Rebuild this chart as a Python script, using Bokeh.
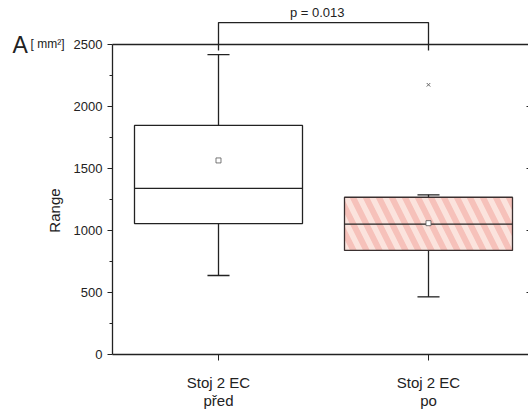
import math
from bokeh.plotting import figure
from bokeh.models import Range1d, LinearAxis, FixedTicker, Label
from bokeh.embed import file_html
from bokeh.resources import INLINE
from bokeh.core.properties import value

# ---- data ----
categories = ["Stoj 2 EC\npřed", "Stoj 2 EC\npo"]
positions = [1, 2]
q1 = [1056, 839]
median = [1339, 1051]
q3 = [1847, 1268]
whisker_low = [637, 465]
whisker_high = [2419, 1288]
means = [1565, 1059]
outlier_x = [2]
outlier_y = [2175]
p_text = "p = 0.013"
y_label = "Range"
y_ticks = [0, 500, 1000, 1500, 2000, 2500]
y_minor = [250, 750, 1250, 1750, 2250]
Y_MIN, Y_MAX = 0, 2500
X_LEFT, X_RIGHT = 0.4952, 2.4762   # plot box edges in category units

FONT = "Liberation Sans"
LINE = "#222222"

BOX_W = 0.8
CAP_W = 0.105

p = figure(width=528, height=412, output_backend="svg", toolbar_location=None,
           x_range=Range1d(-0.0381, 2.4762), y_range=Range1d(-467.7, 2854.8),
           min_border_left=0, min_border_right=0, min_border_top=0, min_border_bottom=0,
           x_axis_location=None, y_axis_location=None)
p.outline_line_color = None
p.grid.visible = False
p.background_fill_color = "white"
p.border_fill_color = "white"

# left axis
ya = LinearAxis(bounds=(Y_MIN, Y_MAX), fixed_location=X_LEFT,
                ticker=FixedTicker(ticks=y_ticks, minor_ticks=y_minor))
ya.major_label_text_font = FONT
ya.major_label_text_font_size = "13px"
ya.major_label_text_color = LINE
ya.major_tick_out = 5
ya.major_tick_in = 0
ya.minor_tick_out = 3
ya.minor_tick_in = 0
ya.axis_line_color = LINE
ya.major_tick_line_color = LINE
ya.minor_tick_line_color = LINE
ya.axis_line_width = 1.3
ya.major_label_standoff = 5
p.add_layout(ya, "left")

# y axis title (rotated)
p.add_layout(Label(x=62, x_units="screen", y=1161, text=y_label, text_font=FONT,
                   text_font_size="15px", text_color=LINE, angle=math.pi / 2,
                   text_align="center", text_baseline="bottom"))

# right axis (ticks only)
ra = LinearAxis(bounds=(Y_MIN, Y_MAX), fixed_location=X_RIGHT, ticker=FixedTicker(ticks=y_ticks))
ra.axis_line_color = None
ra.major_tick_in = 2
ra.major_tick_out = 0
ra.minor_tick_line_color = None
ra.major_label_overrides = {t: "" for t in y_ticks}
ra.major_label_standoff = 0
ra.major_tick_line_color = LINE
p.add_layout(ra, "right")

# bottom axis
xa = LinearAxis(bounds=(X_LEFT, X_RIGHT), fixed_location=Y_MIN, ticker=FixedTicker(ticks=positions))
xa.major_label_overrides = {pos: lab for pos, lab in zip(positions, categories)}
xa.major_label_text_font = FONT
xa.major_label_text_font_size = "15px"
xa.major_label_text_color = LINE
xa.major_label_text_line_height = 1.1
xa.major_label_standoff = 13
xa.major_tick_out = 6
xa.major_tick_in = 0
xa.minor_tick_line_color = None
xa.axis_line_color = LINE
xa.axis_line_width = 1.3
xa.major_tick_line_color = LINE
p.add_layout(xa, "below")

# top frame line at Y_MAX
p.segment(x0=[X_LEFT], x1=[X_RIGHT], y0=[Y_MAX], y1=[Y_MAX],
          line_color=LINE, line_width=1.3)

# whiskers
p.segment(x0=positions, x1=positions, y0=q3, y1=whisker_high, line_color=LINE, line_width=1.3)
p.segment(x0=positions, x1=positions, y0=q1, y1=whisker_low, line_color=LINE, line_width=1.3)
caps_x0 = [x - CAP_W / 2 for x in positions]
caps_x1 = [x + CAP_W / 2 for x in positions]
p.segment(x0=caps_x0, x1=caps_x1, y0=whisker_high, y1=whisker_high, line_color=LINE, line_width=1.3)
p.segment(x0=caps_x0, x1=caps_x1, y0=whisker_low, y1=whisker_low, line_color=LINE, line_width=1.3)

# boxes
p.vbar(x=[positions[0]], width=BOX_W, top=[q3[0]], bottom=[q1[0]],
       fill_color="white", line_color=LINE, line_width=1.3)
p.vbar(x=[positions[1]], width=BOX_W, top=[q3[1]], bottom=[q1[1]],
       fill_color="#fbe3dd", hatch_pattern="left_diagonal_line", hatch_color="#f6c1ba",
       hatch_scale=26, hatch_weight=6, line_color="#3a3030", line_width=1.3)

# medians
box_x0 = [x - BOX_W / 2 for x in positions]
box_x1 = [x + BOX_W / 2 for x in positions]
p.segment(x0=box_x0, x1=box_x1, y0=median, y1=median, line_color=LINE, line_width=1.3)

# means
p.scatter(x=positions, y=means, marker="square", size=5, fill_color="white",
          line_color="#555555", line_width=0.8)

# outliers
p.scatter(x=outlier_x, y=outlier_y, marker="x", size=5, line_color="#666666", line_width=1)

# significance bracket
BR_Y = 2677
TICK_DROP = 48
p.multi_line(xs=[[positions[0], positions[0], positions[1], positions[1]]],
             ys=[[Y_MAX - TICK_DROP, BR_Y, BR_Y, Y_MAX - TICK_DROP]],
             line_color=LINE, line_width=1.3)
p.text(x=[1.47], y=[BR_Y + 24], text=[p_text], text_font=value(FONT), text_font_size="13px",
       text_align="center", text_baseline="bottom", text_color=LINE)

# panel letter and unit
p.add_layout(Label(x=12, x_units="screen", y=2492, text="A", text_font=FONT,
                   text_font_size="23px", text_color=LINE, text_baseline="alphabetic"))
p.add_layout(Label(x=30, x_units="screen", y=2505, text="[ mm²]", text_font=FONT,
                   text_font_size="12px", text_color=LINE, text_baseline="alphabetic"))

open("out.html", "w").write(file_html(p, INLINE))
